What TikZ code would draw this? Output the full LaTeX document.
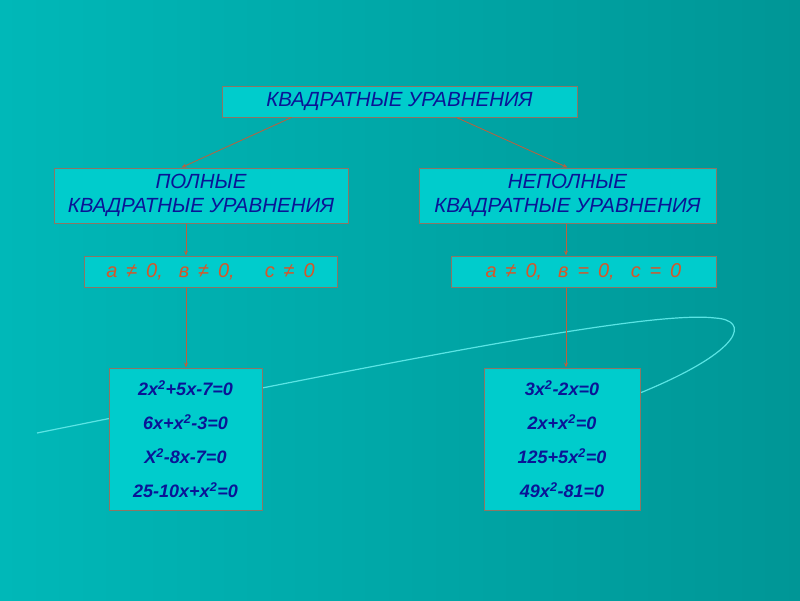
\documentclass[tikz,border=0pt]{standalone}
\usepackage{fontspec}
\setmainfont{Liberation Sans}
\usetikzlibrary{arrows.meta,calc}
\definecolor{bgA}{RGB}{0,184,184}
\definecolor{bgB}{RGB}{0,150,150}
\definecolor{boxfill}{RGB}{0,204,204}
\definecolor{boxline}{RGB}{140,118,100}
\definecolor{navy}{RGB}{10,20,150}
\definecolor{cond}{RGB}{215,85,40}
\definecolor{arrowc}{RGB}{190,95,60}
\definecolor{swoosh}{RGB}{90,228,228}
\tikzset{
  box/.style={draw=boxline, line width=1pt, fill=boxfill, inner sep=0pt, align=center},
  head/.style={box, text=navy, font=\fontsize{20.5}{24}\selectfont\itshape},
  condbox/.style={box, text=cond, font=\fontsize{20}{22}\selectfont\itshape},
  eqbox/.style={box, text=navy, font=\fontsize{18}{34}\selectfont\bfseries\itshape},
  link/.style={draw=arrowc, line width=0.8pt, -{Stealth[length=5pt,width=4pt]}}
}
\begin{document}
\begin{tikzpicture}[x=1pt,y=-1pt]
\useasboundingbox (0,0) rectangle (800,600);
\shade[left color=bgA, right color=bgB] (0,0) rectangle (800,600);
% decorative swoosh
\draw[swoosh, line width=1.2pt] (37,433) .. controls (400,360) and (650,310) .. (715,318)
  .. controls (750,320) and (745,350) .. (640,393);
% nodes
\node[head, minimum width=355pt, minimum height=31pt] (top) at (399.5,101.5) {КВАДРАТНЫЕ УРАВНЕНИЯ};
\node[head, minimum width=294pt, minimum height=55pt] (full) at (201,195.5) {ПОЛНЫЕ\\КВАДРАТНЫЕ УРАВНЕНИЯ};
\node[head, minimum width=297pt, minimum height=55pt] (part) at (567.5,195.5) {НЕПОЛНЫЕ\\КВАДРАТНЫЕ УРАВНЕНИЯ};
\node[condbox, minimum width=253pt, minimum height=31pt] (condL) at (210.5,271.5) {а\, ≠\, 0,\hspace{0.8em}в\, ≠\, 0,\hspace{1.5em}с\, ≠\, 0};
\node[condbox, minimum width=265pt, minimum height=31pt] (condR) at (583.5,271.5) {а\, ≠\, 0,\hspace{0.8em}в\, =\, 0,\hspace{0.8em}с\, =\, 0};
\node[eqbox, minimum width=153pt, minimum height=142pt] (eqL) at (185.5,439) {2x\textsuperscript{2}+5x-7=0\\6x+x\textsuperscript{2}-3=0\\X\textsuperscript{2}-8x-7=0\\25-10x+x\textsuperscript{2}=0};
\node[eqbox, minimum width=156pt, minimum height=142pt] (eqR) at (562,439) {3x\textsuperscript{2}-2x=0\\2x+x\textsuperscript{2}=0\\125+5x\textsuperscript{2}=0\\49x\textsuperscript{2}-81=0};
% connectors
\draw[link] ([xshift=70pt]top.south west) -- ([xshift=128pt]full.north west);
\draw[link] ([xshift=235pt]top.south west) -- ([xshift=149pt]part.north west);
\draw[link] ([xshift=-15pt]full.south) -- ([xshift=-24.5pt]condL.north);
\draw[link] ([xshift=-1.5pt]part.south) -- ([xshift=-17.5pt]condR.north);
\draw[link] ([xshift=-24.5pt]condL.south) -- ([xshift=0.5pt]eqL.north);
\draw[link] ([xshift=-17.5pt]condR.south) -- ([xshift=4pt]eqR.north);
\end{tikzpicture}
\end{document}
